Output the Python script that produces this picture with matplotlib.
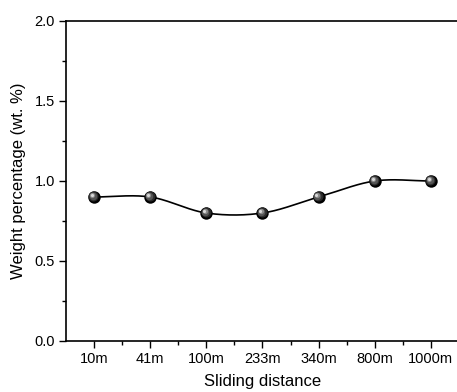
import numpy as np
import matplotlib
matplotlib.use("Agg")
import matplotlib.pyplot as plt
import matplotlib.transforms as mtransforms

# Data
distances = ["10m", "41m", "100m", "233m", "340m", "800m", "1000m"]
weight_pct = [0.9, 0.9, 0.8, 0.8, 0.9, 1.0, 1.0]


def smooth_curve(x, y, n=40):
    # Catmull-Rom style hermite spline through the points
    x = np.asarray(x, float)
    y = np.asarray(y, float)
    m = len(x)
    tang = np.zeros(m)
    tang[1:-1] = (y[2:] - y[:-2]) / (x[2:] - x[:-2])
    xs, ys = [], []
    for i in range(m - 1):
        h = x[i + 1] - x[i]
        t = np.linspace(0, 1, n)
        h00 = 2 * t**3 - 3 * t**2 + 1
        h10 = t**3 - 2 * t**2 + t
        h01 = -2 * t**3 + 3 * t**2
        h11 = t**3 - t**2
        xs.append(x[i] + t * h)
        ys.append(h00 * y[i] + h10 * h * tang[i] + h01 * y[i + 1] + h11 * h * tang[i + 1])
    return np.concatenate(xs), np.concatenate(ys)


plt.rcParams["font.family"] = ["Liberation Sans", "DejaVu Sans"]

fig = plt.figure(figsize=(4.57, 3.92), dpi=100)
ax = fig.add_axes([66 / 457, 51 / 392, 393 / 457, 320 / 392])

xpos = np.arange(len(distances))
sx, sy = smooth_curve(xpos, weight_pct)
ax.plot(sx, sy, color="black", lw=1.2, zorder=2)

# shaded ball markers: dark base plus lighter layers shifted up-left
ax.scatter(xpos, weight_pct, s=80, color="black", zorder=3, linewidths=0)
layers = [(52, "#2a2a2a", 0.5), (30, "#555555", 0.9), (14, "#8c8c8c", 1.3), (5, "#d8d8d8", 1.6)]
for size, col, off in layers:
    tr = mtransforms.offset_copy(ax.transData, fig=fig, x=-off, y=off, units="points")
    ax.scatter(xpos, weight_pct, s=size, color=col, zorder=4, linewidths=0, transform=tr)

ax.set_xlim(-0.5, len(distances) - 0.5)
ax.set_ylim(0, 2.0)
ax.set_xticks(xpos)
ax.set_xticklabels(distances)
ax.set_xticks(xpos[:-1] + 0.5, minor=True)
ax.set_yticks([0.0, 0.5, 1.0, 1.5, 2.0])
ax.set_yticks([0.25, 0.75, 1.25, 1.75], minor=True)
ax.yaxis.set_major_formatter(matplotlib.ticker.FormatStrFormatter("%.1f"))

ax.tick_params(which="major", direction="out", length=5, width=1, labelsize=10.5, pad=3)
ax.tick_params(which="minor", direction="out", length=3, width=1)
for sp in ax.spines.values():
    sp.set_linewidth(1.2)

ax.set_xlabel("Sliding distance", fontsize=12, labelpad=6)
ax.set_ylabel("Weight percentage (wt. %)", fontsize=12, labelpad=6)

fig.savefig("out.png", dpi=100)
